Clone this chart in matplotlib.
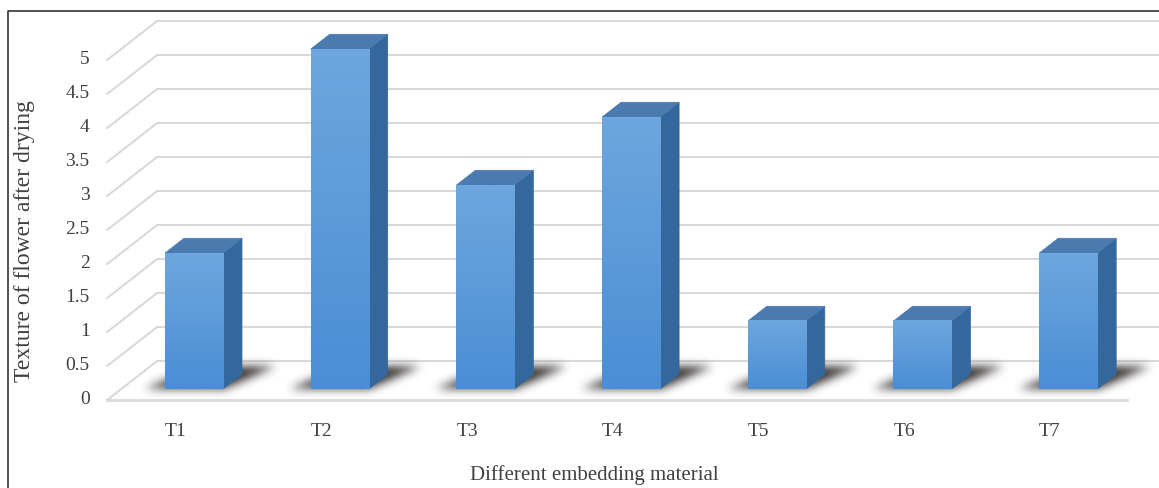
import numpy as np
import matplotlib
matplotlib.use("Agg")
import matplotlib.pyplot as plt
from matplotlib.patches import Polygon
from matplotlib.lines import Line2D
from matplotlib.path import Path

categories = ["T1", "T2", "T3", "T4", "T5", "T6", "T7"]
values = [2, 5, 3, 4, 1, 1, 2]
y_ticks = [0, 0.5, 1, 1.5, 2, 2.5, 3, 3.5, 4, 4.5, 5]
y_tick_labels = ["0", "0.5", "1", "1.5", "2", "2.5", "3", "3.5", "4", "4.5", "5"]
x_title = "Different embedding material"
y_title = "Texture of flower after drying"

plt.rcParams["font.family"] = ["Liberation Serif", "DejaVu Serif"]

W, H = 1159, 488
PX_X, PX_Y = 145.7, 68.0          # pixels per category / per value unit
fig = plt.figure(figsize=(W / 100, H / 100), dpi=100)
ax = fig.add_axes([0, 0, 1, 1])
ax.set_axis_off()

XLIM = (-180 / PX_X, (W - 180) / PX_X)
YLIM = (-88 / PX_Y, (H - 88) / PX_Y)

# oblique depth direction for the pseudo 3-D floor/wall
DEPTH = np.array([50 / PX_X, 39 / PX_Y])


def at(x, v, d):
    """point at category x, value v, depth fraction d (0 = front, 1 = back wall)"""
    return (x + d * DEPTH[0], v + d * DEPTH[1])


def gauss_blur(img, sigma):
    r = int(3 * sigma)
    k = np.exp(-0.5 * (np.arange(-r, r + 1) / sigma) ** 2)
    k /= k.sum()
    img = np.apply_along_axis(lambda m: np.convolve(m, k, mode="same"), 0, img)
    img = np.apply_along_axis(lambda m: np.convolve(m, k, mode="same"), 1, img)
    return img


grid_c = "#d9d9d9"
x_left, x_right = -0.5, len(categories) - 0.5

# back wall gridlines + left wall diagonals
for v in y_ticks:
    p0 = at(x_left, v, 0)
    p1 = at(x_left, v, 1)
    p2 = at(x_right + 0.5, v, 1)
    ax.add_line(Line2D([p0[0], p1[0], p2[0]], [p0[1], p1[1], p2[1]],
                       color=grid_c, lw=1.5, zorder=1))
# front edge of the floor
ax.add_line(Line2D([x_left, x_right], [0, 0], color=grid_c, lw=2, zorder=1))

bar_w = 58 / PX_X
d0, d1 = 0.28, 0.66

front_grad = np.linspace(0, 1, 128).reshape(-1, 1)
cmap_front = matplotlib.colors.LinearSegmentedColormap.from_list(
    "front", ["#6ea6de", "#4a8ed5"])

for i, v in enumerate(values):
    cx = i
    xl, xr = cx - bar_w / 2, cx + bar_w / 2

    # soft floor shadow: polygon mask on a raster, then blurred
    shadow = Path([at(xl - 0.15, 0, d0), at(xr, 0, d0),
                   at(xr + 0.16, 0, d1 + 0.22), at(xl + 0.04, 0, d1 + 0.22)])
    ex = [xl - 0.4, xr + 0.55, -0.2, 0.85]
    nx = int((ex[1] - ex[0]) * PX_X)
    ny = int((ex[3] - ex[2]) * PX_Y)
    gx, gy = np.meshgrid(np.linspace(ex[0], ex[1], nx),
                         np.linspace(ex[3], ex[2], ny))
    mask = shadow.contains_points(np.c_[gx.ravel(), gy.ravel()]).reshape(ny, nx)
    alpha = gauss_blur(mask.astype(float), 4.5) * 0.9
    rgba = np.zeros((ny, nx, 4))
    rgba[..., :3] = np.array([0x22, 0x1c, 0x1c]) / 255
    rgba[..., 3] = alpha
    ax.imshow(rgba, extent=ex, aspect="auto", origin="upper", zorder=2,
              interpolation="bilinear")

    # front face with vertical gradient
    fx0, fy0 = at(xl, 0, d0)
    fx1, fy1 = at(xr, v, d0)
    ax.imshow(front_grad, cmap=cmap_front, extent=[fx0, fx1 + 0.003, fy0, fy1],
              aspect="auto", origin="upper", zorder=4, interpolation="bilinear")

    # side face
    side = [at(xr, 0, d0), at(xr, v, d0), at(xr, v, d1), at(xr, 0, d1)]
    ax.add_patch(Polygon(side, closed=True, facecolor="#34679b",
                         edgecolor="#34679b", lw=0.5, zorder=3.9))
    # top face
    top = [at(xl, v, d0), at(xr, v, d0), at(xr, v, d1), at(xl, v, d1)]
    ax.add_patch(Polygon(top, closed=True, facecolor="#4a7aae",
                         edgecolor="#4a7aae", lw=0.5, zorder=3.9))

    ax.text(cx - 0.03, -0.47, categories[i], ha="center", va="center",
            fontsize=14, color="#404040")

ax.set_xlim(*XLIM)
ax.set_ylim(*YLIM)

for v, lab in zip(y_ticks, y_tick_labels):
    ax.text(-0.62, v, lab, ha="right", va="center", fontsize=14, color="#404040")

fig.text(594 / W, 1 - 475 / H, x_title, ha="center", va="center",
         fontsize=15, color="#404040")
fig.text(25 / W, 1 - 241 / H, y_title, ha="center", va="center",
         rotation=90, fontsize=17, color="#404040")

# outer frame (left and top edges)
frame = Line2D([8 / W, 8 / W, 1], [0, 1 - 10.5 / H, 1 - 10.5 / H],
               transform=fig.transFigure, color="#333333", lw=1.2)
fig.add_artist(frame)

fig.savefig("out.png", dpi=100)
